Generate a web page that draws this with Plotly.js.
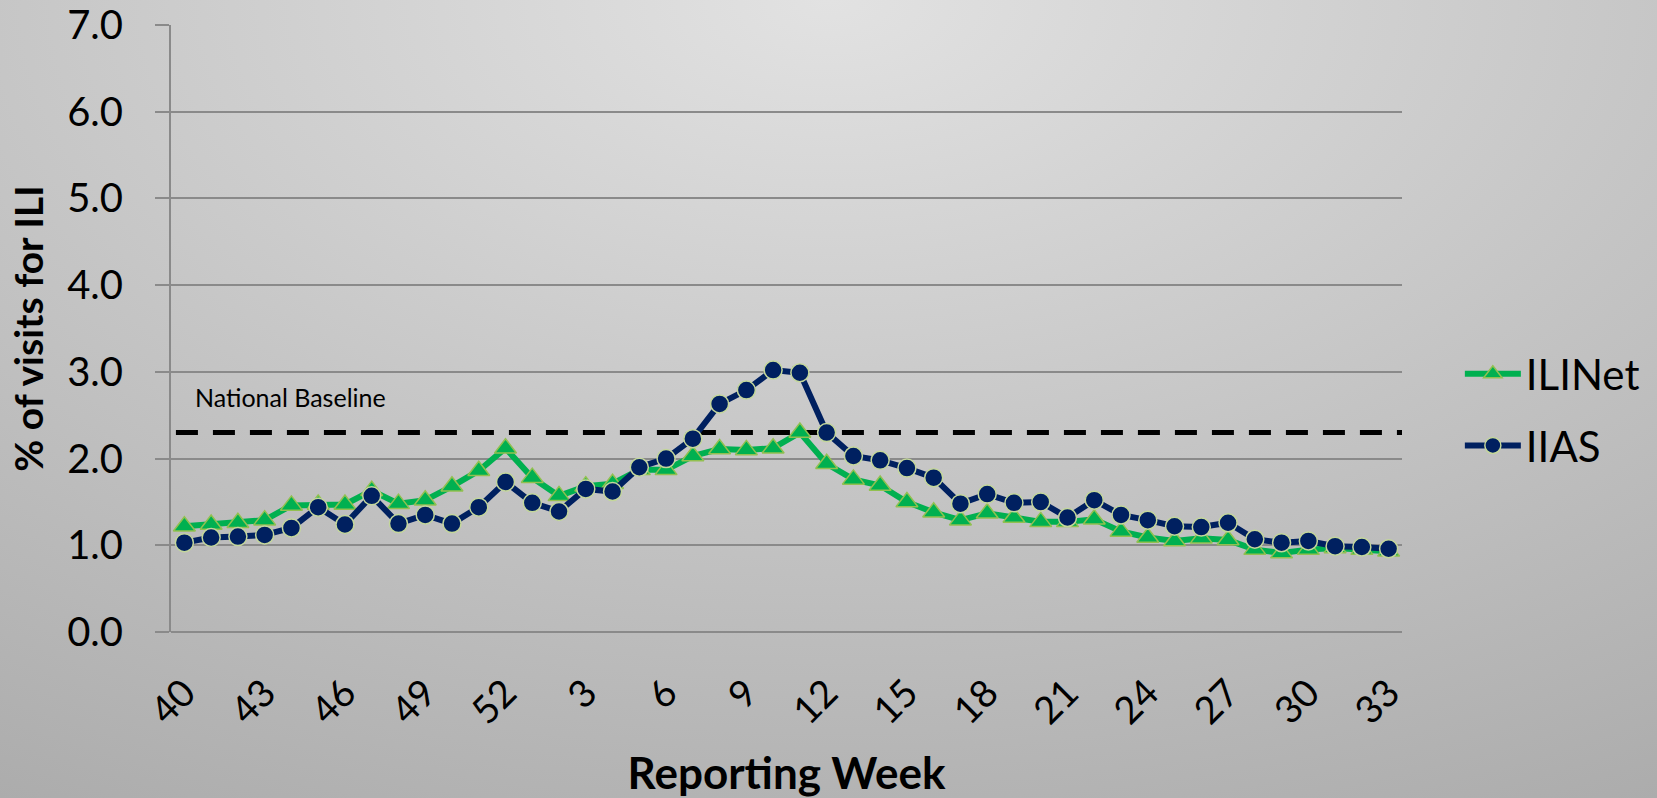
<!DOCTYPE html>
<html>
<head>
<meta charset="utf-8">
<script src="https://cdn.plot.ly/plotly-3.0.1.min.js"></script>
<style>
  html, body { margin: 0; padding: 0; }
  body { width: 1657px; height: 798px; overflow: hidden;
         background: radial-gradient(ellipse 120% 140% at 50% 0%, #e2e2e2 0%, #c4c4c4 45%, #a1a1a1 100%); }
  #chart { width: 1657px; height: 798px; }
</style>
</head>
<body>
<div id="chart"></div>
<script>
// Reporting weeks (season week 40 through week 33 of the next year)
const weeks = ['40','41','42','43','44','45','46','47','48','49','50','51','52',
  '1','2','3','4','5','6','7','8','9','10','11','12','13','14','15','16','17','18','19','20',
  '21','22','23','24','25','26','27','28','29','30','31','32','33'];

// % of visits for ILI
const iliNet = [1.22,1.24,1.26,1.29,1.46,1.47,1.47,1.63,1.48,1.52,1.68,1.86,2.12,
  1.78,1.57,1.68,1.71,1.87,1.87,2.03,2.11,2.10,2.12,2.30,1.94,1.76,1.69,1.50,1.38,1.29,1.37,1.32,1.27,
  1.27,1.30,1.16,1.09,1.05,1.08,1.06,0.95,0.91,0.95,0.97,0.95,0.93];

const iias = [1.03,1.09,1.10,1.12,1.20,1.44,1.24,1.57,1.25,1.35,1.25,1.44,1.73,
  1.49,1.39,1.65,1.62,1.90,2.00,2.23,2.63,2.79,3.02,2.99,2.30,2.03,1.98,1.89,1.78,1.48,1.59,1.49,1.50,
  1.32,1.52,1.35,1.29,1.22,1.21,1.26,1.07,1.03,1.05,0.99,0.98,0.96];

const nationalBaseline = 2.3;

const xTickLabels = ['40','43','46','49','52','3','6','9','12','15','18','21','24','27','30','33'];
const yTickVals = [0,1,2,3,4,5,6,7];

const FONT = 'Lato, "Noto Sans", sans-serif';
const GRID = '#8a8a8a';

const traces = [
  {
    x: weeks, y: iliNet, name: 'ILINet', type: 'scatter', mode: 'lines+markers',
    line: { color: '#00B050', width: 6 },
    marker: { symbol: 'triangle-up', size: 19, color: '#00B050', line: { color: '#92C050', width: 1.5 } },
    legend: 'legend'
  },
  {
    x: weeks, y: iias, name: 'IIAS', type: 'scatter', mode: 'lines+markers',
    line: { color: '#002060', width: 6 },
    marker: { symbol: 'circle', size: 18, color: '#002060', line: { color: '#C4D79B', width: 1.5 } },
    legend: 'legend2'
  }
];

const layout = {
  width: 1657, height: 798,
  paper_bgcolor: 'rgba(0,0,0,0)', plot_bgcolor: 'rgba(0,0,0,0)',
  margin: { l: 171, r: 255, t: 25, b: 166, autoexpand: false },
  font: { family: FONT, color: '#000' },
  showlegend: true,
  xaxis: {
    type: 'category', range: [-0.5, weeks.length - 0.5],
    tickmode: 'array', tickvals: xTickLabels, ticktext: xTickLabels,
    tickangle: -45, ticks: '', showgrid: false, zeroline: false, showline: false,
    tickfont: { family: FONT, size: 38, color: '#000' },
    ticklabelstandoff: 30,
    automargin: false,
    title: { text: 'Reporting Week', font: { family: FONT, size: 44, weight: 'bold', color: '#000' }, standoff: 30 }
  },
  yaxis: {
    range: [0, 7], tickmode: 'array', tickvals: yTickVals,
    tickformat: '.1f',
    showgrid: true, gridcolor: GRID, gridwidth: 2,
    zeroline: true, zerolinecolor: GRID, zerolinewidth: 2,
    showline: true, linecolor: GRID, linewidth: 2,
    ticks: 'outside', ticklen: 14, tickcolor: GRID, tickwidth: 2,
    tickfont: { family: FONT, size: 40, color: '#000' },
    ticklabelstandoff: 24,
    automargin: false,
    title: { text: '% of visits for ILI', font: { family: FONT, size: 39, weight: 'bold', color: '#000' }, standoff: 12 }
  },
  shapes: [
    { type: 'line', xref: 'paper', yref: 'y', x0: 0.004, x1: 1.0, y0: nationalBaseline, y1: nationalBaseline,
      line: { color: '#000', width: 5, dash: '22px,15px' }, layer: 'below' }
  ],
  annotations: [
    { text: 'National Baseline', xref: 'paper', yref: 'y', x: 0.018, y: nationalBaseline + 0.41,
      xanchor: 'left', yanchor: 'middle', showarrow: false,
      font: { family: FONT, size: 25, color: '#000' } }
  ],
  legend: {
    x: 1.047, y: 0.425, xanchor: 'left', yanchor: 'middle', bgcolor: 'rgba(0,0,0,0)',
    font: { family: FONT, size: 42, color: '#000' }, itemwidth: 56
  },
  legend2: {
    x: 1.047, y: 0.307, xanchor: 'left', yanchor: 'middle', bgcolor: 'rgba(0,0,0,0)',
    font: { family: FONT, size: 42, color: '#000' }, itemwidth: 56
  }
};

Plotly.newPlot('chart', traces, layout, { displayModeBar: false, staticPlot: true });
</script>
</body>
</html>
